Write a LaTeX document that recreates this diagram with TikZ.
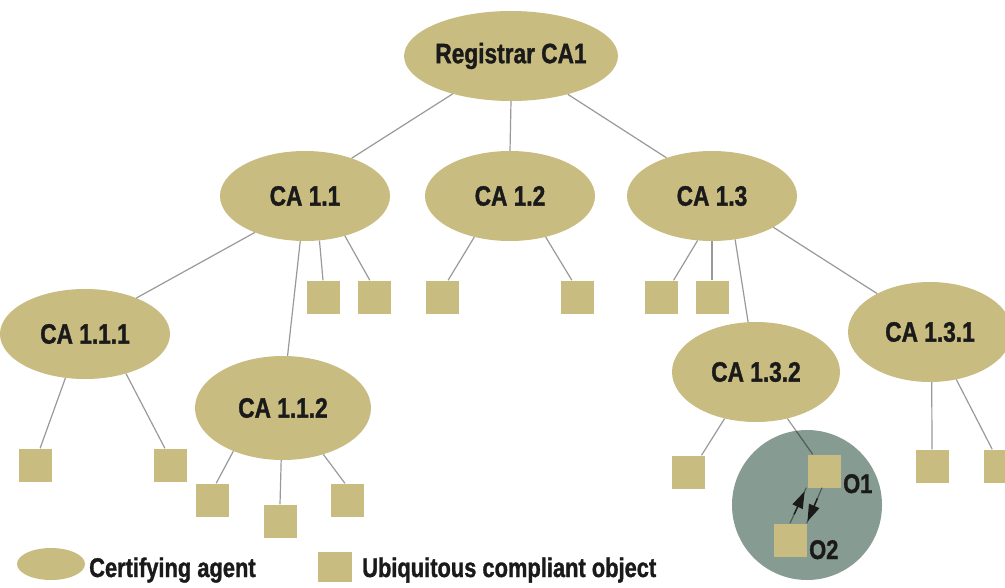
\documentclass[tikz,border=0pt]{standalone}
\usepackage{fontspec}
\setmainfont{Liberation Sans}[FakeStretch=0.81, BoldFeatures={FakeBold=1.2}]
\usetikzlibrary{shapes.geometric,arrows.meta,calc}
\definecolor{khaki}{HTML}{C9BC80}
\definecolor{sage}{HTML}{869B91}
\definecolor{ink}{HTML}{1A1A1A}
\tikzset{
  agent/.style={ellipse, fill=khaki, minimum width=170pt, minimum height=90pt, inner sep=0pt, text=ink, font=\bfseries\fontsize{28}{30}\selectfont},
  object/.style={rectangle, fill=khaki, minimum size=33pt, inner sep=0pt},
  link/.style={draw=black, draw opacity=0.4, line width=1.2pt},
  swap/.style={draw=ink, line width=1.4pt, -{Triangle[length=17pt,width=11pt]}},
  tag/.style={text=ink, font=\bfseries\fontsize{27}{30}\selectfont, inner sep=0pt, anchor=base west}
}
\begin{document}
\begin{tikzpicture}[x=1pt,y=-1pt]
    \clip (0,0) rectangle (1005,587);

    % the enclave of O1 and O2
    \node[circle, fill=sage, minimum size=150pt, inner sep=0pt] (zone) at (807,505) {};

    \node[agent, minimum width=172pt] (reg) at (511,56) {Registrar CA1};
    \node[agent] (ca11) at (305,196) {CA 1.1};
    \node[agent] (ca12) at (510,196) {CA 1.2};
    \node[agent] (ca13) at (712,196) {CA 1.3};
    \node[agent] (ca111) at (85,334) {CA 1.1.1};
    \node[agent, minimum width=176pt, minimum height=104pt] (ca112) at (283,408) {CA 1.1.2};
    \node[agent, minimum width=168pt, minimum height=100pt] (ca132) at (756,372) {CA 1.3.2};
    \node[agent, minimum width=164pt, minimum height=100pt] (ca131) at (930,332) {CA 1.3.1};

    \node[object] (o11a) at (323,297) {};
    \node[object] (o11b) at (374,297) {};
    \node[object] (o12a) at (442,297) {};
    \node[object] (o12b) at (577,297) {};
    \node[object] (o13a) at (661,297) {};
    \node[object] (o13b) at (712,297) {};
    \node[object] (o111a) at (35,465) {};
    \node[object] (o111b) at (170,465) {};
    \node[object] (o112a) at (212,500) {};
    \node[object] (o112b) at (280,521) {};
    \node[object] (o112c) at (347,500) {};
    \node[object] (o132a) at (688,472) {};
    \node[object] (O1) at (824,471) {};
    \node[object] (O2) at (790,540) {};
    \node[object] (o131a) at (932,466) {};
    \node[object] (o131b) at (1000,466) {};

    \node[tag] (o1tag) at (843,493) {O1};
    \node[tag] (o2tag) at (809,559) {O2};

    % tree
    \draw[link] (reg.-147) -- (ca11.39);
    \draw[link] (reg.-90) -- (ca12.90);
    \draw[link] (reg.-34) -- (ca13.140);

    \draw[link] (ca11.-144) -- (ca111.35);
    \draw[link] (ca11.-96) -- (ca112.85);
    \draw[link] (ca11.-72) -- (o11a.north);
    \draw[link] (ca11.-45) -- (o11b.104);

    \draw[link] (ca12.-131) -- (o12a.70);
    \draw[link] (ca12.-49) -- (o12b.107);

    \draw[link] (ca13.-108) -- (o13a.53);
    \draw[link] (ca13.-90) -- (o13b.north);
    \draw[link] (ca13.-62) -- (ca132.99);
    \draw[link] (ca13.-27) -- (ca131.144);

    \draw[link] (ca111.-114) -- (o111a.73);
    \draw[link] (ca111.-44) -- (o111b.107);

    \draw[link] (ca112.-139) -- (o112a.76);
    \draw[link] (ca112.-92) -- (o112b.north);
    \draw[link] (ca112.-49) -- (o112c.97);

    \draw[link] (ca132.-124) -- (o132a.51);
    \draw[link] (ca132.-56) -- (O1.124);

    \draw[link] (ca131.-88) -- (o131a.north);
    \draw[link] (ca131.-61) -- (o131b.115);

    % exchange between O1 and O2
    \coordinate (up0) at ($(O2.north)+(0,0)$);
    \coordinate (up1) at ($(O1.south west)+(-1,0)$);
    \coordinate (dn0) at ($(O1.south)+(-2,0)$);
    \coordinate (dn1) at (O2.north east);
    \draw[link] (up0) -- (up1);
    \draw[link] (dn0) -- (dn1);
    \draw[swap] ($(up0)!0.25!(up1)$) -- ($(up0)!0.9!(up1)$);
    \draw[swap] ($(dn0)!0.3!(dn1)$) -- ($(dn0)!0.95!(dn1)$);

    % legend
    \node[agent, minimum width=68pt, minimum height=32pt] (keyagent) at (51,564) {};
    \node[tag] (keyagenttext) at (89,577) {Certifying agent};
    \node[object, minimum width=34pt, minimum height=30pt] (keyobject) at (335,567) {};
    \node[tag] (keyobjecttext) at (362,577) {Ubiquitous compliant object};
\end{tikzpicture}
\end{document}
